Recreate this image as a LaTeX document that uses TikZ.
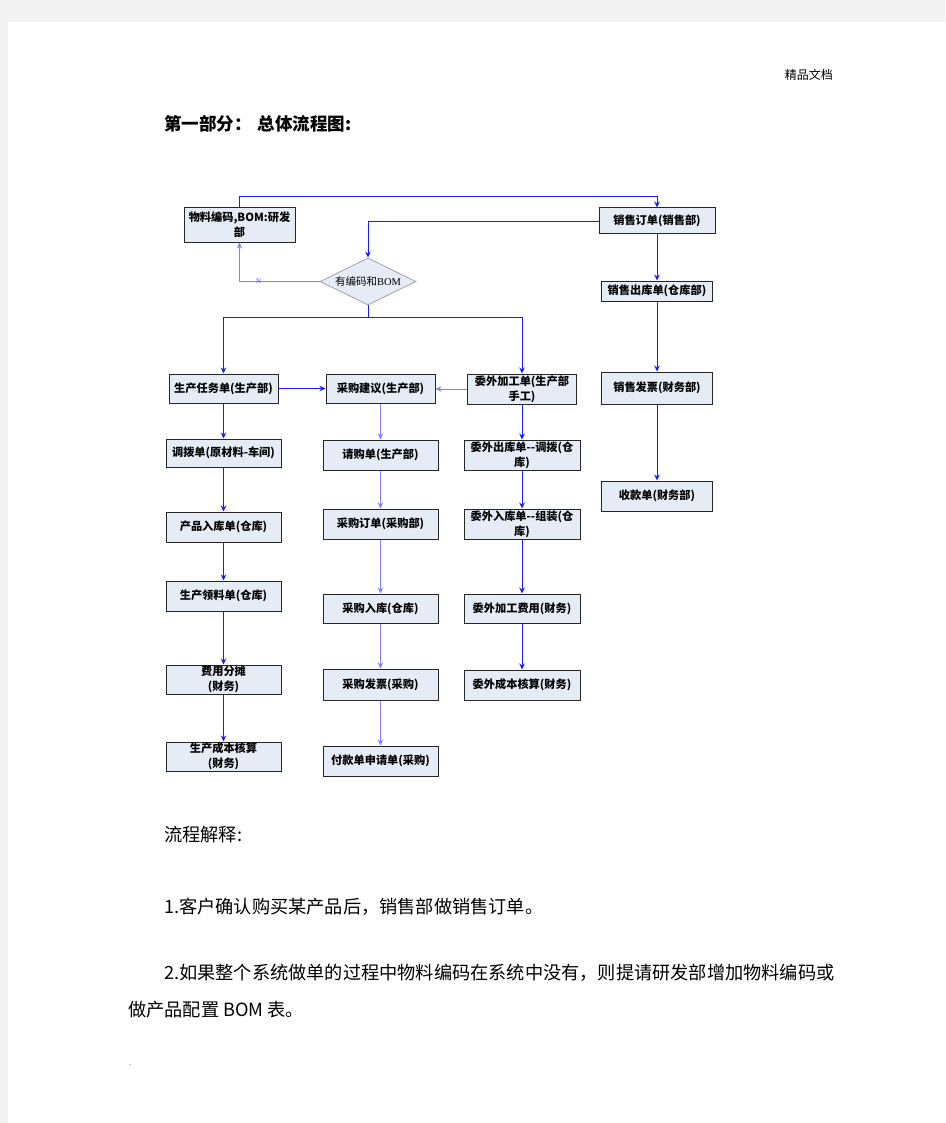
\documentclass[tikz,border=0pt]{standalone}
\usepackage{fontspec}
\setmainfont{Noto Sans CJK SC}
\newfontfamily\tnr{Liberation Serif}
\usetikzlibrary{arrows.meta,shapes.geometric}
\definecolor{pagegrey}{HTML}{F2F2F2}
\definecolor{boxfill}{HTML}{E6ECF6}
\definecolor{lineblue}{HTML}{1A1AFF}
\definecolor{lightblue}{HTML}{8080FF}
\definecolor{diagrey}{HTML}{A0A0A0}
\begin{document}
\begin{tikzpicture}[x=1pt,y=-1pt,
  box/.style={draw=black!85, line width=1pt, fill=boxfill, inner sep=0pt, align=center,
    font=\fontsize{11.2}{15}\selectfont\bfseries},
  arr/.style={draw=lineblue, line width=0.9pt, -{Stealth[length=6pt,width=5.5pt]}},
  arrl/.style={arr, draw=lightblue},
  bodytext/.style={anchor=west, inner sep=0pt, font=\fontsize{18.2}{20}\selectfont}]
\useasboundingbox (0,0) rectangle (945,1123);
\fill[pagegrey] (0,0) rectangle (945,1123);
\fill[white] (8,22) rectangle (945,1123);

% header texts
\node[anchor=east, inner sep=0pt, font=\fontsize{12}{14}\selectfont] (hdr) at (833,75) {精品文档};
\node[anchor=west, inner sep=0pt, font=\fontsize{17.5}{20}\selectfont\bfseries] (title) at (164,124) {第一部分：\hspace{6pt}总体流程图:};

% boxes
\node[box, minimum width=111, minimum height=34] (rd) at (239.5,225) {物料编码,BOM:研发\\部};
\node[box, minimum width=116, minimum height=26] (so) at (657,221) {销售订单(销售部)};
\node[box, minimum width=111, minimum height=20] (sd) at (657,291) {销售出库单(仓库部)};
\node[box, minimum width=111, minimum height=32] (si) at (657,388) {销售发票(财务部)};
\node[box, minimum width=111, minimum height=30] (rc) at (657,496) {收款单(财务部)};
\node[diamond, draw=diagrey, fill=boxfill, line width=0.8pt, inner sep=0pt, aspect=2,
      minimum width=96, minimum height=47, font=\fontsize{10.5}{12}\selectfont] (dia) at (368,281.5) {有编码和{\tnr BOM}};

\node[box, minimum width=109, minimum height=29] (pt) at (223.5,388.5) {生产任务单(生产部)};
\node[box, minimum width=109, minimum height=29] (ps) at (380.5,388.5) {采购建议(生产部)};
\node[box, minimum width=109, minimum height=30] (op) at (522,389) {委外加工单(生产部\\手工)};

\node[box, minimum width=115, minimum height=28] (tr) at (223.5,453) {调拨单(原材料-车间)};
\node[box, minimum width=115, minimum height=30] (pi) at (223.5,527) {产品入库单(仓库)};
\node[box, minimum width=115, minimum height=30] (pm) at (223.5,596) {生产领料单(仓库)};
\node[box, minimum width=115, minimum height=29] (fa) at (223.5,679.5) {费用分摊\\(财务)};
\node[box, minimum width=115, minimum height=29] (cc) at (223.5,756.5) {生产成本核算\\(财务)};

\node[box, minimum width=115, minimum height=30] (pr) at (380.5,455) {请购单(生产部)};
\node[box, minimum width=115, minimum height=30] (po) at (380.5,524) {采购订单(采购部)};
\node[box, minimum width=115, minimum height=29] (pw) at (380.5,608.5) {采购入库(仓库)};
\node[box, minimum width=115, minimum height=31] (pv) at (380.5,684.5) {采购发票(采购)};
\node[box, minimum width=115, minimum height=30] (pa) at (380.5,761) {付款单申请单(采购)};

\node[box, minimum width=116, minimum height=30] (oo) at (522,455) {委外出库单-{}-调拨(仓\\库)};
\node[box, minimum width=116, minimum height=30] (oi) at (522,524) {委外入库单-{}-组装(仓\\库)};
\node[box, minimum width=116, minimum height=29] (of) at (522,608.5) {委外加工费用(财务)};
\node[box, minimum width=116, minimum height=30] (oc) at (522,685) {委外成本核算(财务)};

% connectors
\coordinate (ytop) at (240,196);
\coordinate (ybr) at (368,317);
\draw[arr] (rd.north) -- (rd.north |- ytop) -| (so.north);
\draw[arr] (so.west) -| (dia.north);
\draw[arrl] (dia.west) -| node[pos=0.38, inner sep=0pt, text=lineblue!80,
   font=\tnr\fontsize{7}{8}\selectfont] {N} (rd.south);
\draw[arr] (dia.south) -- (ybr) -| (pt.north);
\draw[arr] (ybr) -| (op.north);

\draw[arr] (so) -- (sd);
\draw[arr] (sd) -- (si);
\draw[arr] (si) -- (rc);

\draw[arr] (pt.east) -- (ps.west);
\draw[arrl] (op.west) -- (ps.east |- op.west);

\draw[arr] (pt) -- (tr);
\draw[arr] (tr) -- (pi);
\draw[arr] (pi) -- (pm);
\draw[arr] (pm) -- (fa);
\draw[arr] (fa) -- (cc);

\draw[arrl] (ps) -- (pr);
\draw[arrl] (pr) -- (po);
\draw[arrl] (po) -- (pw);
\draw[arrl] (pw) -- (pv);
\draw[arrl] (pv) -- (pa);

\draw[arr] (op) -- (oo);
\draw[arr] (oo) -- (oi);
\draw[arr] (oi) -- (of);
\draw[arr] (of) -- (oc);

% explanation text
\node[bodytext] (e0) at (164,835) {流程解释:};
\node[bodytext] (e1) at (164,907) {1.客户确认购买某产品后，销售部做销售订单。};
\node[bodytext] (e2) at (164,973) {2.如果整个系统做单的过程中物料编码在系统中没有，则提请研发部增加物料编码或};
\node[bodytext] (e3) at (128,1010) {做产品配置 BOM 表。};
\node[inner sep=0pt, text=black!50, font=\fontsize{8}{9}\selectfont] (dot) at (130,1065) {.};
\end{tikzpicture}
\end{document}
